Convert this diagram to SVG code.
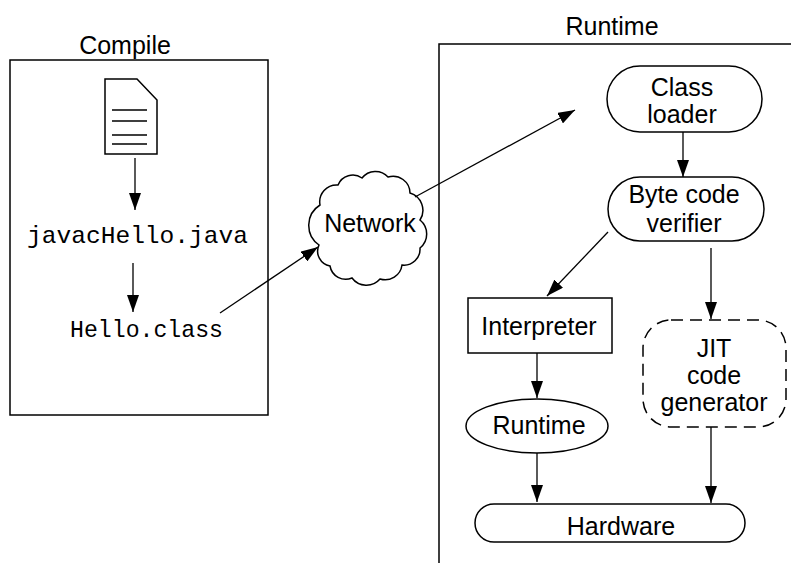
<svg xmlns="http://www.w3.org/2000/svg" width="791" height="563" viewBox="0 0 791 563">
<style>
.t{font-family:"Liberation Sans",Arial,sans-serif;font-size:25px;fill:#000;text-anchor:middle}
.m{font-family:"Liberation Mono","Courier New",monospace;font-size:24px;fill:#000}
.s{fill:none;stroke:#000;stroke-width:1.5}
.c{fill:none;stroke:#000;stroke-width:1.3;marker-end:url(#ah)}
</style>
<defs>
<marker id="ah" viewBox="0 0 17 12" refX="17" refY="6" markerWidth="17" markerHeight="12" markerUnits="userSpaceOnUse" orient="auto">
<path d="M0,0 L17,6 L0,12 z" fill="#000"/>
</marker>
</defs>
<rect width="791" height="563" fill="#fff"/>
<g id="compile">
<rect class="s" x="10" y="60" width="258" height="355"/>
<text class="t" x="125" y="54">Compile</text>
</g>
<g id="runtime-area">
<path class="s" d="M791,44 H439 V563"/>
<text class="t" x="612" y="35">Runtime</text>
</g>
<g id="document">
<path class="s" d="M105,79 H137 L157,100 V154 H105 Z"/>
<path class="s" d="M112,110 H147 M112,121 H147 M112,135 H147 M112,144 H147"/>
</g>
<g id="javac"><text class="m" x="27" y="243" textLength="221" lengthAdjust="spacingAndGlyphs">javacHello.java</text></g>
<g id="helloclass"><text class="m" x="70" y="337" textLength="153" lengthAdjust="spacingAndGlyphs">Hello.class</text></g>
<g id="network">
<path class="s" d="M319,245 A24,24 0 0 1 320,205 A17,17 0 0 1 338,185 A16,16 0 0 1 362,178 A17,17 0 0 1 388,177 A17,17 0 0 1 410,193 A18,18 0 0 1 420,220 A18,18 0 0 1 420,248 A16,16 0 0 1 402,265 A17,17 0 0 1 380,279 A18,18 0 0 1 352,278 A16,16 0 0 1 330,266 A15,15 0 0 1 319,245 Z"/>
<text class="t" x="370" y="232">Network</text>
</g>
<g id="classloader">
<rect class="s" x="607" y="66" width="155" height="66" rx="33" ry="33"/>
<text class="t" x="682" y="96">Class</text>
<text class="t" x="682" y="123">loader</text>
</g>
<g id="verifier">
<rect class="s" x="608" y="177" width="156" height="64" rx="32" ry="32"/>
<text class="t" x="684" y="203">Byte code</text>
<text class="t" x="684" y="232">verifier</text>
</g>
<g id="interpreter">
<rect class="s" x="468" y="298" width="144" height="55"/>
<text class="t" x="539" y="335">Interpreter</text>
</g>
<g id="jit">
<rect class="s" x="643" y="320" width="143" height="107" rx="28" ry="28" stroke-dasharray="12 7"/>
<text class="t" x="714" y="357">JIT</text>
<text class="t" x="714" y="384">code</text>
<text class="t" x="714" y="411">generator</text>
</g>
<g id="runtime">
<ellipse class="s" cx="537" cy="426" rx="71" ry="27"/>
<text class="t" x="539" y="434">Runtime</text>
</g>
<g id="hardware">
<rect class="s" x="475" y="504" width="270" height="38" rx="19" ry="19"/>
<text class="t" x="621" y="535">Hardware</text>
</g>
<g id="connectors">
<line class="c" x1="135" y1="158" x2="135" y2="210"/>
<line class="c" x1="133" y1="263" x2="133" y2="312"/>
<line class="c" x1="220" y1="313" x2="318" y2="247"/>
<line class="c" x1="415" y1="197" x2="575" y2="110"/>
<line class="c" x1="683" y1="132" x2="683" y2="177"/>
<line class="c" x1="608" y1="232" x2="547" y2="296"/>
<line class="c" x1="711" y1="248" x2="711" y2="319"/>
<line class="c" x1="537" y1="353" x2="537" y2="398"/>
<line class="c" x1="537" y1="453" x2="537" y2="502"/>
<line class="c" x1="711" y1="427" x2="711" y2="503"/>
</g>
</svg>
